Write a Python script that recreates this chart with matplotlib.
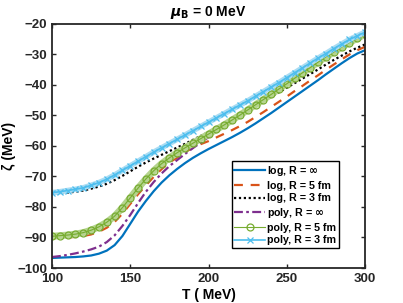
import matplotlib
matplotlib.use('Agg')
import matplotlib.pyplot as plt

# temperature grid (MeV)
T = list(range(100, 301, 5))

# zeta (MeV)
log_inf = [-96.7, -96.6, -96.5, -96.4, -96.2, -95.9, -95.3, -94.3, -92.5, -89.5,
           -85.5, -81.5, -78.0, -74.8, -72.0, -69.6, -67.5, -65.6, -63.9, -62.4,
           -61.0, -59.7, -58.4, -57.1, -55.7, -54.2, -52.6, -50.9, -49.2, -47.4,
           -45.6, -43.8, -42.0, -40.2, -38.4, -36.5, -34.7, -32.9, -31.2, -29.7, -28.6]
log_5 = [-90.2, -90.1, -90.0, -89.8, -89.5, -89.0, -88.1, -86.8, -84.9, -82.2,
         -79.0, -75.8, -72.9, -70.1, -67.6, -65.4, -63.8, -62.0, -60.6, -59.4,
         -58.4, -57.2, -56.0, -54.8, -53.5, -52.1, -50.5, -48.9, -47.2, -45.5,
         -43.8, -42.0, -40.3, -38.5, -36.8, -35.0, -33.3, -31.6, -30.0, -28.6, -27.5]
log_3 = [-75.6, -75.5, -75.3, -75.0, -74.6, -74.0, -73.3, -72.4, -71.2, -69.8,
         -68.3, -66.8, -65.4, -64.1, -62.9, -61.7, -60.5, -59.3, -58.0, -56.7,
         -55.4, -54.0, -52.6, -51.2, -49.8, -48.4, -46.9, -45.4, -43.9, -42.4,
         -40.9, -39.4, -37.9, -36.4, -34.9, -33.3, -31.8, -30.4, -29.0, -27.8, -26.7]
poly_inf = [-96.4, -96.1, -95.7, -95.2, -94.6, -93.9, -93.0, -91.5, -89.3, -86.2,
            -82.6, -78.7, -75.0, -71.8, -69.0, -66.6, -64.6, -62.6, -60.7, -58.9,
            -57.1, -55.3, -53.7, -52.0, -50.4, -48.7, -47.0, -45.3, -43.6, -41.8,
            -40.1, -38.3, -36.5, -34.8, -33.0, -31.3, -29.7, -28.1, -26.6, -25.2, -23.9]
poly_5 = [-89.6, -89.4, -89.2, -88.9, -88.4, -87.6, -86.5, -85.0, -83.0, -80.2,
          -77.0, -73.8, -70.8, -68.1, -65.8, -63.9, -62.2, -60.6, -59.1, -57.6,
          -56.1, -54.6, -53.1, -51.5, -49.9, -48.2, -46.5, -44.8, -43.1, -41.3,
          -39.6, -37.8, -36.0, -34.3, -32.5, -30.8, -29.2, -27.6, -26.1, -24.7, -23.4]
poly_3 = [-75.3, -75.0, -74.6, -74.2, -73.7, -72.9, -72.0, -70.9, -69.5, -68.0,
          -66.5, -65.0, -63.5, -62.0, -60.6, -59.2, -57.8, -56.4, -55.0, -53.6,
          -52.2, -50.8, -49.4, -48.0, -46.6, -45.2, -43.7, -42.2, -40.7, -39.2,
          -37.6, -36.0, -34.4, -32.8, -31.2, -29.7, -28.1, -26.6, -25.1, -23.9, -22.7]

labels = ['log, R = $\\mathbf{\\infty}$', 'log, R = 5 fm', 'log, R = 3 fm',
          'poly, R = $\\mathbf{\\infty}$', 'poly, R = 5 fm', 'poly, R = 3 fm']

plt.rcParams['font.family'] = ['Liberation Sans', 'DejaVu Sans']
plt.rcParams['font.weight'] = 'bold'
plt.rcParams['mathtext.default'] = 'regular'

fig = plt.figure(figsize=(4.03, 3.03), dpi=100)
ax = fig.add_axes([0.129, 0.1155, 0.777, 0.8055])

ax.plot(T, log_inf, '-', color='#0072BD', lw=1.6, label=labels[0])
ax.plot(T, log_5, color='#D95319', lw=1.6, linestyle=(0, (4, 3.5)), label=labels[1])
ax.plot(T, log_3, color='k', lw=1.6, linestyle=(0, (1, 1.2)), label=labels[2])
ax.plot(T, poly_inf, color='#7E2F8E', lw=1.6, linestyle=(0, (4, 1.5, 1.2, 1.5)), label=labels[3])

# thick under-strokes give the dense marker bands seen in the reference
ax.plot(T, poly_5, color='#b5d48e', lw=5, solid_capstyle='round')
ax.plot(T, poly_5, 'o-', color='#77AC30', lw=0.8, ms=5, mfc='none', mew=0.9, label=labels[4])
ax.plot(T, poly_3, color='#a9dcf3', lw=4, solid_capstyle='round')
ax.plot(T, poly_3, 'x-', color='#4DBEEE', lw=1.2, ms=4, mew=0.9, label=labels[5])

ax.set_xlim(100, 300)
ax.set_ylim(-100, -20)
ax.set_xticks([100, 150, 200, 250, 300])
ax.set_yticks(range(-100, -19, 10))
ax.tick_params(direction='in', top=True, right=True, labelsize=9.5, length=3,
               width=1, colors='#262626')
for s in ax.spines.values():
    s.set_linewidth(1.3)
    s.set_color('#262626')

ax.set_xlabel('T ( MeV)', fontsize=10, fontweight='bold', labelpad=2)
ax.set_ylabel('ζ (MeV)', fontsize=10, fontweight='bold', labelpad=1)
ax.set_title('$\\mathit{\\mu}_{\\mathbf{B}}$ = 0 MeV', fontsize=10, fontweight='bold', pad=6)

leg = ax.legend(loc='lower right', bbox_to_anchor=(0.917, 0.082), borderaxespad=0,
                fontsize=7.7, fancybox=False, framealpha=1, edgecolor='k',
                handlelength=2.9, handletextpad=0.2, labelspacing=0.25, borderpad=0.25)
leg.get_frame().set_linewidth(1.0)

fig.savefig('out.png', dpi=100)
